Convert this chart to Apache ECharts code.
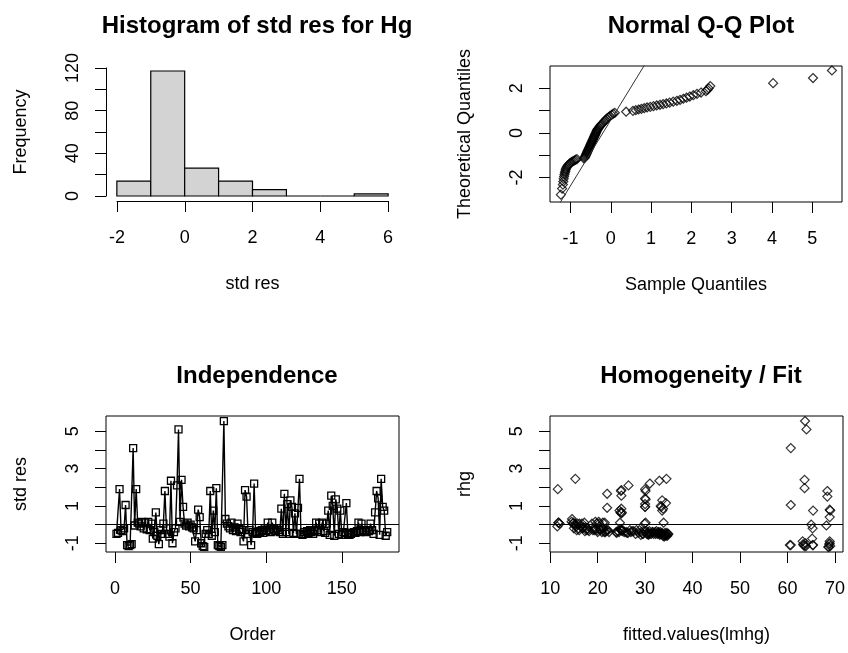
<!DOCTYPE html>
<html><head><meta charset="utf-8">
<script src="https://cdn.jsdelivr.net/npm/echarts@6/dist/echarts.min.js"></script>
<style>html,body{margin:0;padding:0;background:#fff}#c{width:848px;height:653px}</style>
</head><body><div id="c"></div>
<script>
// ---------- Histogram ----------
const histBinStart = [-2, -1, 0, 1, 2, 3, 4, 5];
const histBinEnd   = [-1, 0, 1, 2, 3, 4, 5, 6];
const histCounts   = [14, 117, 26, 14, 6, 0, 0, 2];
const histXTicks = [-2, 0, 2, 4, 6];
const histYTicks = [0, 20, 40, 60, 80, 100, 120];
const histYLabels = [0, 40, 80, 120];

// ---------- Normal Q-Q ----------
const qqSample = [
  -1.24,-1.21,-1.19,-1.18,-1.17,-1.16,-1.15,-1.14,-1.13,-1.12,-1.11,-1.09,-1.07,-1.05,
  -1.02,-0.99,-0.96,-0.93,-0.90,-0.87,-0.84,
  -0.67,-0.65,-0.64,-0.63,-0.62,-0.61,-0.60,-0.59,-0.58,-0.57,-0.56,-0.55,-0.54,-0.53,-0.52,-0.51,-0.50,
  -0.49,-0.48,-0.47,-0.46,-0.45,-0.44,-0.43,-0.42,-0.41,-0.40,-0.39,-0.38,-0.37,-0.36,-0.35,-0.34,-0.33,
  -0.31,-0.29,-0.27,-0.25,-0.22,-0.19,-0.16,-0.13,-0.10,-0.06,-0.02,0.02,0.06,0.10,
  0.38,0.55,0.62,0.69,0.76,0.83,0.90,0.98,1.06,1.14,1.22,1.30,1.38,1.46,1.55,1.64,1.72,1.80,1.88,1.96,
  2.05,2.14,2.24,2.36,2.40,2.43,2.47,
  4.03,5.02,5.49
];
const qqTheoretical = [
  -2.77,-2.50,-2.32,-2.18,-2.06,-1.96,-1.87,-1.79,-1.72,-1.65,-1.59,-1.53,-1.47,-1.42,
  -1.37,-1.33,-1.29,-1.26,-1.23,-1.20,-1.18,
  -1.15,-1.12,-1.08,-1.04,-1.00,-0.96,-0.92,-0.88,-0.84,-0.80,-0.76,-0.72,-0.68,-0.64,-0.60,-0.56,-0.52,
  -0.48,-0.44,-0.40,-0.36,-0.32,-0.28,-0.24,-0.20,-0.16,-0.12,-0.08,-0.04,0.00,0.04,0.08,0.12,0.16,
  0.20,0.25,0.30,0.35,0.40,0.46,0.52,0.58,0.64,0.70,0.76,0.81,0.86,0.90,
  0.95,0.99,1.02,1.05,1.08,1.11,1.14,1.17,1.20,1.23,1.26,1.29,1.32,1.36,1.40,1.44,1.48,1.53,1.58,1.63,
  1.69,1.75,1.81,1.87,1.93,2.00,2.10,
  2.23,2.46,2.80
];
const qqLineX = [-1.30, 0.90];
const qqLineY = [-3.25, 3.23];
const qqXTicks = [-1, 0, 1, 2, 3, 4, 5];
const qqYTicks = [-2, -1, 0, 1, 2];
const qqYLabels = [-2, 0, 2];

// ---------- Standardised residuals (in observation order) ----------
const stdRes = [
  -0.5,-0.45,1.9,-0.3,-0.35,-0.2,1.05,-1.1,-1.15,-1.1,
  -1.05,4.1,-0.05,1.9,0.1,0.05,-0.1,0.15,-0.2,0.1,
  -0.25,0.15,-0.3,0.05,-0.75,-0.4,0.65,-0.6,-1.05,-0.3,
  -0.5,0.05,1.8,-0.2,-0.5,-0.65,2.35,-1.0,-0.4,-0.2,
  2.1,5.1,0.15,2.4,0.95,0.05,-0.05,0.1,-0.1,0.0,
  -0.15,-0.2,-0.9,-0.3,0.8,0.4,-1.0,-1.15,-1.2,-0.5,
  -0.3,-0.5,1.8,-0.6,0.75,-0.4,1.95,-1.1,-1.15,-1.2,
  -1.1,5.55,0.3,0.05,-0.1,-0.2,0.1,-0.3,-0.15,-0.35,
  0.05,-0.25,-0.4,-0.3,-0.9,1.85,1.5,-0.5,-0.3,-1.1,
  -0.4,2.2,-0.45,-0.5,-0.35,-0.4,-0.3,-0.45,-0.2,-0.35,
  0.1,-0.3,-0.4,0.1,-0.25,-0.35,-0.2,-0.3,-0.4,0.85,
  -0.5,1.65,-0.4,1.1,-0.5,1.3,0.95,-0.45,0.6,-0.5,
  0.9,2.45,-0.5,-0.55,-0.4,-0.5,-0.35,-0.45,-0.3,-0.4,
  -0.5,-0.35,0.1,-0.3,0.05,-0.4,0.1,-0.35,-0.45,0.05,
  0.75,-0.55,1.55,1.0,-0.6,1.35,0.85,-0.5,0.75,-0.55,
  -0.4,-0.45,1.15,-0.5,-0.55,-0.5,-0.45,-0.4,-0.45,-0.35,
  0.1,-0.4,0.05,-0.3,-0.35,-0.4,-0.3,-0.35,0.05,-0.3,
  -0.5,0.65,1.8,1.4,-0.55,2.45,0.95,0.75,-0.6,-0.4
];
// ---------- fitted.values(lmhg), same order ----------
const fittedVals = [
  33.5,34.2,11.6,20.5,29.8,16.0,60.7,60.7,63.6,60.5,
  63.3,60.7,15.2,30.0,11.7,14.8,16.5,19.5,21.0,17.2,
  24.8,20.2,28.8,15.8,65.2,32.8,24.8,34.5,68.8,22.0,
  30.5,12.0,24.9,17.8,33.0,34.0,33.0,63.8,26.0,19.2,
  26.5,64.0,14.5,63.6,30.0,16.2,68.2,21.5,11.5,65.0,
  17.0,65.3,68.9,25.0,68.9,68.9,68.9,69.0,68.7,31.0,
  19.0,29.5,68.4,33.8,65.4,24.5,63.6,63.4,63.9,68.6,
  65.3,63.7,14.6,19.8,15.5,21.2,24.7,26.8,17.5,30.2,
  29.9,20.6,33.2,28.2,63.2,25.0,68.4,34.8,25.3,65.4,
  31.5,31.0,33.6,30.8,21.8,27.0,18.0,34.6,16.8,25.2,
  30.1,22.2,29.2,33.9,19.6,32.4,15.0,24.9,30.6,25.0,
  33.4,22.0,20.0,30.0,34.3,33.6,33.4,28.6,25.0,31.8,
  22.0,34.5,34.9,33.1,21.4,30.4,17.3,26.4,19.3,32.1,
  29.6,24.2,11.8,16.1,18.8,25.6,21.1,27.6,32.9,15.3,
  24.6,34.1,25.0,33.3,34.7,30.1,33.8,31.3,69.0,29.1,
  20.9,26.2,34.4,32.6,30.7,28.0,24.0,21.6,33.0,18.2,
  14.9,31.6,16.7,19.9,27.3,22.4,17.6,30.9,20.3,15.6,
  32.2,25.1,30.1,30.0,33.7,15.3,30.0,33.6,34.2,23.9
];
const orderTicks = [0, 50, 100, 150];
const resYTicks = [-1, 0, 1, 2, 3, 4, 5];
const resYLabels = [-1, 1, 3, 5];
const fitXTicks = [10, 20, 30, 40, 50, 60, 70];

// ---------- chart ----------
const FONT = 'Liberation Sans, Arial, sans-serif';
const TICK_FS = 18, NAME_FS = 18, TITLE_FS = 24;
const black = '#000';

function xAx(grid, min, max, ticks, labels, name, show) {
  return {
    type: 'value', gridIndex: grid, min: min, max: max, show: show !== false,
    position: 'bottom',
    splitLine: {show: false},
    axisLine: {show: false, onZero: false},
    axisTick: {show: true, inside: false, length: 11, lineStyle: {color: black, width: 1}, customValues: ticks},
    axisLabel: {show: true, margin: 28, fontSize: TICK_FS, color: black, fontFamily: FONT, customValues: labels},
    name: name, nameLocation: 'middle', nameGap: 74,
    nameTextStyle: {fontSize: NAME_FS, color: black, fontFamily: FONT}
  };
}
function yAx(grid, min, max, ticks, labels, name, show) {
  return {
    type: 'value', gridIndex: grid, min: min, max: max, show: show !== false,
    position: 'left',
    splitLine: {show: false},
    axisLine: {show: false, onZero: false},
    axisTick: {show: true, inside: false, length: 11, lineStyle: {color: black, width: 1}, customValues: ticks},
    axisLabel: {show: true, rotate: 90, margin: 24, fontSize: TICK_FS, color: black, fontFamily: FONT, customValues: labels},
    name: name, nameLocation: 'middle', nameGap: 76, nameRotate: 90,
    nameTextStyle: {fontSize: NAME_FS, color: black, fontFamily: FONT}
  };
}
const hidden = (grid, min, max) => ({type: 'value', gridIndex: grid, min: min, max: max, show: false});

const boxGrid = (l, t, w, h) => ({left: l, top: t, width: w, height: h, show: true, borderColor: black, borderWidth: 1, backgroundColor: 'transparent'});

const histXAxis = xAx(1, -2, 6, histXTicks, histXTicks, 'std res');
histXAxis.axisLine = {show: true, onZero: false, lineStyle: {color: black, width: 1}};
const histYAxis = yAx(2, 0, 120, histYTicks, histYLabels, 'Frequency');
histYAxis.axisLine = {show: true, onZero: false, lineStyle: {color: black, width: 1}};

const hLine = {
  silent: true, symbol: ['none', 'none'], label: {show: false}, animation: false,
  lineStyle: {color: black, type: 'solid', width: 1.2},
  data: [{yAxis: 0}]
};

const option = {
  animation: false,
  backgroundColor: '#fff',
  textStyle: {fontFamily: FONT},
  title: [
    {text: 'Histogram of std res for Hg', left: 252, top: 9, textAlign: 'center'},
    {text: 'Normal Q-Q Plot', left: 696, top: 9, textAlign: 'center'},
    {text: 'Independence', left: 252, top: 359, textAlign: 'center'},
    {text: 'Homogeneity / Fit', left: 696, top: 359, textAlign: 'center'}
  ].map(t => Object.assign(t, {textStyle: {fontSize: TITLE_FS, fontWeight: 'bold', color: black, fontFamily: FONT}})),
  grid: [
    {left: 106, top: 66, width: 293, height: 135},   // 0 histogram bars
    {left: 117, top: 150, width: 271, height: 51},   // 1 histogram x axis
    {left: 106, top: 68, width: 60, height: 128},    // 2 histogram y axis
    boxGrid(550, 66, 292, 136),                      // 3 QQ
    boxGrid(106, 416, 293, 136),                     // 4 independence
    boxGrid(550, 416, 293, 136)                      // 5 homogeneity
  ],
  xAxis: [
    hidden(0, -2.32, 6.32),
    histXAxis,
    hidden(2, 0, 1),
    xAx(3, -1.51, 5.74, qqXTicks, qqXTicks, 'Sample Quantiles'),
    xAx(4, -5.95, 187.8, orderTicks, orderTicks, 'Order'),
    xAx(5, 9.96, 71.7, fitXTicks, fitXTicks, 'fitted.values(lmhg)')
  ],
  yAxis: [
    hidden(0, -4.68, 121.68),
    hidden(1, 0, 1),
    histYAxis,
    yAx(3, -3.1, 3.0, qqYTicks, qqYLabels, 'Theoretical Quantiles'),
    yAx(4, -1.47, 5.82, resYTicks, resYLabels, 'std res'),
    yAx(5, -1.47, 5.82, resYTicks, resYLabels, 'rhg')
  ],
  series: [
    {
      type: 'custom', xAxisIndex: 0, yAxisIndex: 0, clip: false,
      data: histBinStart.map((s, i) => [s, histBinEnd[i], histCounts[i]]),
      encode: {x: [0, 1], y: 2},
      renderItem: function (params, api) {
        const p0 = api.coord([api.value(0), 0]);
        const p1 = api.coord([api.value(1), api.value(2)]);
        return {
          type: 'rect',
          shape: {x: p0[0], y: p1[1], width: p1[0] - p0[0], height: p0[1] - p1[1]},
          style: {fill: '#d3d3d3', stroke: black, lineWidth: 1.2}
        };
      }
    },
    {
      type: 'line', xAxisIndex: 3, yAxisIndex: 3, clip: true, symbol: 'none',
      data: qqLineX.map((x, i) => [x, qqLineY[i]]),
      lineStyle: {color: '#333', width: 1}, silent: true
    },
    {
      type: 'scatter', xAxisIndex: 3, yAxisIndex: 3, symbol: 'diamond', symbolSize: 9,
      data: qqSample.map((x, i) => [x, qqTheoretical[i]]),
      itemStyle: {color: 'rgba(0,0,0,0)', borderColor: black, borderWidth: 1.2}
    },
    {
      type: 'line', xAxisIndex: 4, yAxisIndex: 4, symbol: 'rect', symbolSize: 7, showAllSymbol: true,
      data: stdRes.map((v, i) => [i + 1, v]),
      lineStyle: {color: black, width: 1.4},
      itemStyle: {color: 'rgba(0,0,0,0)', borderColor: black, borderWidth: 1.3},
      markLine: hLine
    },
    {
      type: 'scatter', xAxisIndex: 5, yAxisIndex: 5, symbol: 'diamond', symbolSize: 9,
      data: fittedVals.map((f, i) => [f, stdRes[i]]),
      itemStyle: {color: 'rgba(0,0,0,0)', borderColor: black, borderWidth: 1.2},
      markLine: hLine
    }
  ]
};
const chart = echarts.init(document.getElementById('c'), null, {renderer: 'canvas'});
chart.setOption(option);
</script>
</body></html>
